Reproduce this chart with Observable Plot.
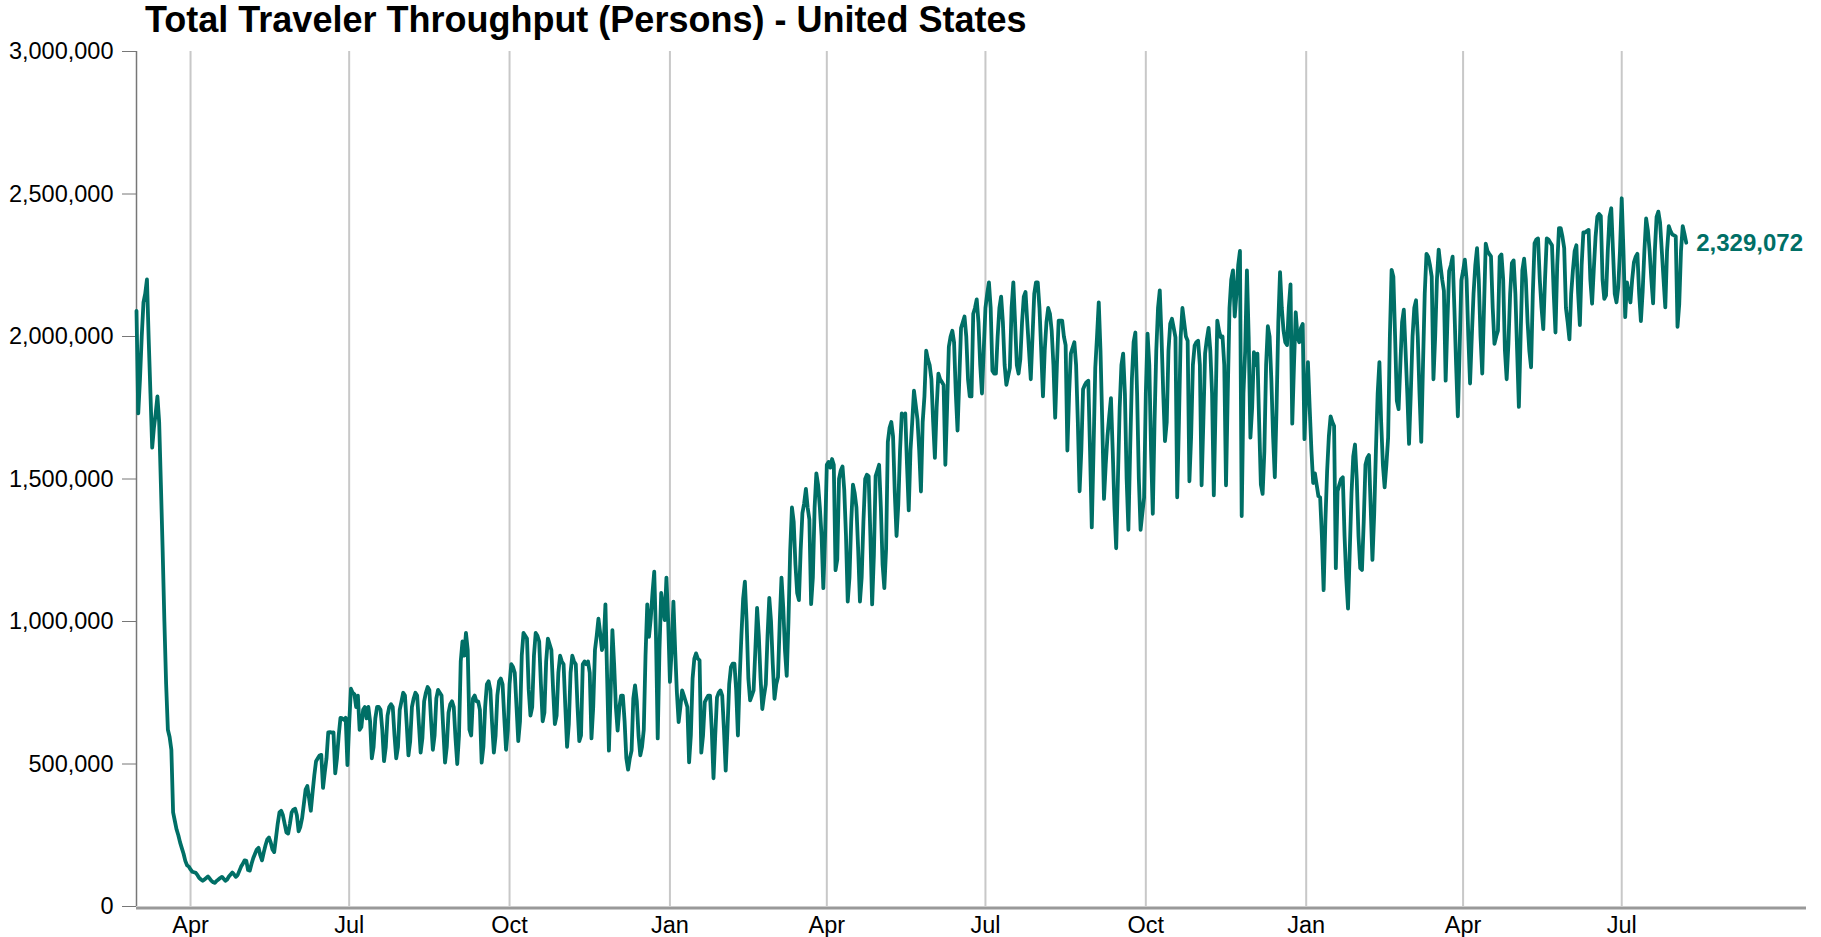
<!DOCTYPE html>
<html>
<head>
<meta charset="utf-8">
<script src="https://cdn.jsdelivr.net/npm/d3@7"></script>
<script src="https://cdn.jsdelivr.net/npm/@observablehq/plot@0.6"></script>
<style>
  body { margin: 0; background: #fff; font-family: "Liberation Sans", Arial, sans-serif; }
  #wrap { position: relative; width: 1821px; height: 937px; overflow: hidden; }
  #title { position: absolute; left: 145px; top: 2px; font-size: 36px; font-weight: bold; line-height: 1; color: #000; white-space: nowrap; }
  #chart { position: absolute; left: 0; top: 0; }
</style>
</head>
<body>
<div id="wrap">
  <div id="chart"></div>
  <div id="title">Total Traveler Throughput (Persons) - United States</div>
</div>
<script>
// Daily TSA traveler throughput, in thousands of persons
const start2020 = "2020-03-01";
const travelers2020 = [
  // Mar
  2090,1730,1850,2000,2120,2150,2200,1990,1800,1610,1680,1730,1790,1700,1480,1250,1000,780,620,595,550,330,300,270,250,225,205,185,160,145,140,
  // Apr
  130,122,120,118,110,100,95,90,95,100,105,98,90,85,83,90,95,100,104,97,90,95,105,112,119,112,104,110,125,140,
  // May
  150,162,160,128,126,150,170,185,200,206,180,162,190,215,235,242,225,200,191,240,290,330,336,320,290,260,256,290,330,340,343,
  // Jun
  320,264,280,310,360,410,423,380,336,400,460,510,520,530,532,416,470,520,611,612,610,611,467,520,600,662,660,655,662,496,
  // Jul
  640,764,750,745,700,740,620,630,690,700,660,700,650,520,560,660,700,700,690,620,510,560,670,700,710,700,600,520,560,690,720,
  // Aug
  750,740,640,530,580,700,730,750,740,640,540,590,720,750,770,760,650,550,600,730,760,750,740,620,505,560,680,710,720,700,590,
  // Sep
  500,600,860,930,880,960,900,620,600,730,740,720,720,690,505,560,700,780,790,760,640,540,600,740,790,800,780,660,550,620,
  // Oct
  780,850,840,820,700,580,650,880,960,950,940,760,670,700,880,960,950,930,780,650,680,860,940,920,900,760,640,670,820,880,860,
  // Nov
  850,700,560,640,820,880,860,850,700,580,600,850,860,850,860,820,590,700,900,950,1010,960,900,920,1060,800,547,750,970,850,
  // Dec
  700,617,700,740,740,650,520,480,520,547,730,776,720,600,530,560,620,880,1060,946,1010,1100,1175,950,590,900,1100,1050,1005,1154,1000
];
const start2021 = "2021-01-01";
const travelers2021 = [
  // Jan
  788,900,1070,900,750,647,700,758,740,720,700,506,600,800,870,888,870,864,540,600,717,730,740,740,620,450,600,734,750,758,740,
  // Feb
  620,477,620,780,840,852,852,760,600,800,950,1080,1140,1000,800,723,740,758,900,1048,950,800,693,740,780,950,1083,1000,
  // Mar
  850,729,780,805,1000,1154,1050,900,809,1000,1250,1400,1350,1200,1100,1075,1250,1380,1415,1465,1400,1358,1061,1155,1400,1520,1480,1400,1300,1117,1300,
  // Apr
  1550,1560,1540,1570,1550,1180,1218,1500,1530,1544,1462,1300,1070,1155,1350,1480,1450,1400,1250,1070,1155,1350,1500,1515,1510,1300,1060,1233,1510,1530,
  // May
  1550,1400,1200,1117,1254,1630,1680,1700,1650,1450,1300,1410,1600,1730,1720,1730,1550,1390,1600,1700,1810,1760,1710,1600,1456,1700,1790,1950,1920,1900,1850,
  // Jun
  1700,1574,1750,1870,1850,1840,1830,1550,1750,1964,2000,2020,1980,1800,1670,1850,2030,2050,2070,2000,1850,1790,1790,2080,2100,2130,2050,1900,1800,1950,
  // Jul
  2100,2150,2190,2100,1880,1870,1870,2000,2100,2140,2050,1900,1830,1860,1890,2100,2190,2050,1900,1870,1920,2050,2140,2156,2050,1950,1850,2000,2150,2190,2190,
  // Aug
  2100,1950,1790,1950,2050,2100,2080,2020,1900,1715,1900,2056,2056,2056,2000,1970,1600,1800,1940,1960,1980,1900,1700,1457,1600,1815,1830,1840,1845,1600,1330,
  // Sep
  1600,1890,2000,2120,1950,1700,1430,1550,1650,1720,1784,1600,1400,1257,1500,1750,1900,1940,1800,1500,1322,1600,1850,1980,2014,1800,1500,1322,1380,1434,
  // Oct
  1800,2010,1900,1600,1378,1700,1950,2100,2162,2000,1800,1633,1700,1950,2045,2062,2030,1997,1436,1700,2000,2100,2050,2000,1985,1492,1650,1900,1968,1980,1985,
  // Nov
  1900,1478,1700,1940,1990,2030,1950,1800,1443,1750,2056,2020,1997,2000,1900,1478,1800,2100,2200,2232,2070,2150,2250,2300,1370,1800,1950,2232,2000,1645,
  // Dec
  1750,1945,1900,1940,1700,1480,1448,1598,1900,2036,2000,1850,1650,1506,1750,2050,2226,2100,2020,1980,1970,2100,2183,1694,1900,2085,2000,1980,2030,2044,1640
];
const start2022 = "2022-01-01";
const travelers2022 = [
  // Jan
  1800,1910,1750,1600,1486,1520,1480,1440,1435,1300,1110,1350,1527,1650,1720,1700,1686,1187,1457,1480,1500,1506,1300,1150,1045,1250,1450,1580,1621,1500,1300,
  // Feb
  1187,1181,1350,1550,1574,1584,1400,1216,1375,1600,1800,1910,1700,1550,1471,1550,1645,2000,2234,2210,2000,1774,1745,1900,2050,2094,1950,1800,
  // Mar
  1623,1800,2000,2100,2127,2000,1800,1630,1900,2150,2290,2280,2250,2210,1850,2000,2200,2305,2250,2200,2160,1845,2050,2230,2250,2280,2100,1900,1720,1950,2197,
  // Apr
  2230,2270,2200,2000,1835,2000,2150,2250,2310,2200,2000,1870,2100,2326,2300,2290,2281,2100,1974,2000,2020,2280,2288,2200,1950,1850,1974,2150,2258,2267,
  // May
  2150,1950,1753,2000,2232,2273,2200,2050,1950,1892,2150,2327,2340,2344,2200,2100,2026,2200,2344,2340,2330,2320,2150,2014,2250,2380,2380,2350,2310,2100,2050,
  // Jun
  1990,2150,2232,2300,2320,2150,2040,2250,2365,2365,2370,2374,2200,2115,2238,2350,2420,2430,2423,2200,2132,2144,2300,2420,2450,2300,2150,2120,2173,2300,
  // Jul
  2485,2300,2068,2190,2150,2120,2200,2260,2280,2290,2150,2054,2156,2300,2414,2373,2300,2200,2116,2300,2420,2438,2400,2300,2200,2102,2300,2387,2370,2358,2355,
  // Aug
  2351,2034,2114,2300,2387,2360,2329.072
];

// Quarter ticks on the time axis, and value ticks
const quarterTicks = ["2020-04-01","2020-07-01","2020-10-01","2021-01-01","2021-04-01","2021-07-01","2021-10-01","2022-01-01","2022-04-01","2022-07-01"];
const valueTicks = [0, 500000, 1000000, 1500000, 2000000, 2500000, 3000000];
const xDomain = ["2020-03-01", "2022-10-15"];
const lineColor = "#006f66";

// Build the daily table
const DAY = 864e5;
function buildSeries(startIso, values) {
  const t0 = new Date(startIso).getTime();
  return values.map((v, i) => ({ date: new Date(t0 + i * DAY), value: v * 1000 }));
}
const data = [
  ...buildSeries(start2020, travelers2020),
  ...buildSeries(start2021, travelers2021),
  ...buildSeries(start2022, travelers2022)
];
const last = data[data.length - 1];
const tickDates = quarterTicks.map(s => new Date(s));

const chart = Plot.plot({
  width: 1821,
  height: 937,
  marginTop: 51,
  marginBottom: 31,
  marginLeft: 136,
  marginRight: 15,
  style: { fontFamily: '"Liberation Sans", Arial, sans-serif', fontSize: "23.5px", background: "white", color: "black", overflow: "visible" },
  x: { type: "utc", domain: xDomain.map(s => new Date(s)) },
  y: { domain: [0, 3000000] },
  marks: [
    Plot.ruleX(tickDates, { stroke: "#c8c8c8", strokeWidth: 2 }),
    Plot.ruleX([new Date(xDomain[0])], { y1: 0, y2: 3000000, stroke: "#777", strokeWidth: 1.5 }),
    Plot.axisY({ ticks: valueTicks, tickSize: 14, tickPadding: 9, tickFormat: d3.format(","), label: null, stroke: "#777" }),
    Plot.axisX({ ticks: tickDates, tickSize: 0, tickPadding: 10, tickFormat: d3.utcFormat("%b"), label: null }),
    Plot.ruleY([0], { stroke: "#999", strokeWidth: 3, dy: 1.5 }),
    Plot.line(data, { x: "date", y: "value", stroke: lineColor, strokeWidth: 3.8, strokeLinejoin: "round", strokeLinecap: "round" }),
    Plot.text([last], {
      x: "date", y: "value",
      text: d => d3.format(",")(Math.round(d.value)),
      dx: 10, dy: 1, textAnchor: "start",
      fill: lineColor, fontWeight: "bold", fontSize: 24
    })
  ]
});
document.getElementById("chart").appendChild(chart);
</script>
</body>
</html>
